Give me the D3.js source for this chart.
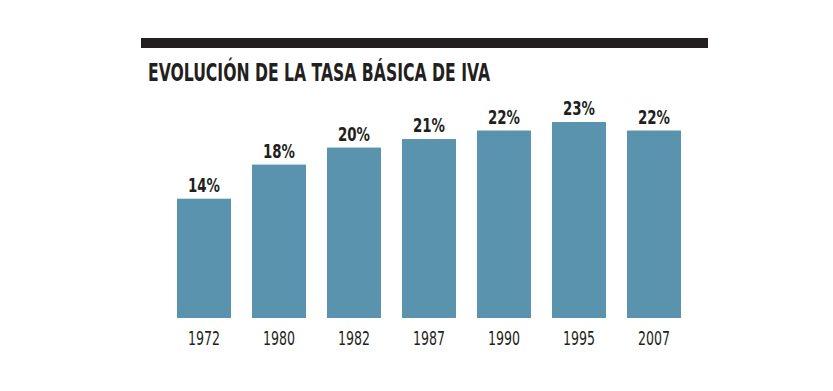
<!DOCTYPE html>
<html><head><meta charset="utf-8">
<script src="https://cdn.jsdelivr.net/npm/d3@7"></script>
<style>body{margin:0;background:#fff}</style>
</head><body>
<script>
const years = ["1972","1980","1982","1987","1990","1995","2007"];
const rates = [14,18,20,21,22,23,22];
const title = "EVOLUCIÓN DE LA TASA BÁSICA DE IVA";

const W=833,H=391;
const FONT="'Liberation Sans Narrow','DejaVu Sans Condensed',sans-serif";
const svg=d3.select("body").append("svg").attr("width",W).attr("height",H);
svg.append("rect").attr("x",141).attr("y",38).attr("width",567).attr("height",10).attr("fill","#231f20");
svg.append("text").attr("x",148).attr("y",81).text(title)
  .attr("font-family",FONT)
  .attr("font-weight","bold").attr("font-size",24).attr("fill","#231f20")
  .attr("textLength",342).attr("lengthAdjust","spacingAndGlyphs");

const x=d3.scaleBand().domain(years).range([166.5,691.5]).paddingInner(0.28).paddingOuter(0.14);
const y=d3.scaleLinear().domain([0,23]).range([318,122]);

svg.selectAll("rect.bar").data(years).join("rect").attr("class","bar")
  .attr("x",d=>x(d)).attr("width",x.bandwidth())
  .attr("y",(d,i)=>y(rates[i])).attr("height",(d,i)=>y(0)-y(rates[i]))
  .attr("fill","#5a93ae");

svg.selectAll("text.val").data(years).join("text").attr("class","val")
  .attr("x",d=>x(d)+x.bandwidth()/2).attr("y",(d,i)=>y(rates[i])-7)
  .attr("text-anchor","middle").text((d,i)=>rates[i]+"%")
  .attr("font-family",FONT)
  .attr("font-weight","bold").attr("font-size",19).attr("fill","#231f20")
  .attr("textLength",32).attr("lengthAdjust","spacingAndGlyphs");

const axis=d3.axisBottom(x).tickSize(0).tickPadding(0);
const g=svg.append("g").attr("transform","translate(0,331)").call(axis);
g.select(".domain").remove();
g.selectAll("text").attr("font-family",FONT)
  .attr("font-size",19).attr("fill","#231f20").attr("dy","0.71em")
  .attr("textLength",32).attr("lengthAdjust","spacingAndGlyphs");
</script>
</body></html>
